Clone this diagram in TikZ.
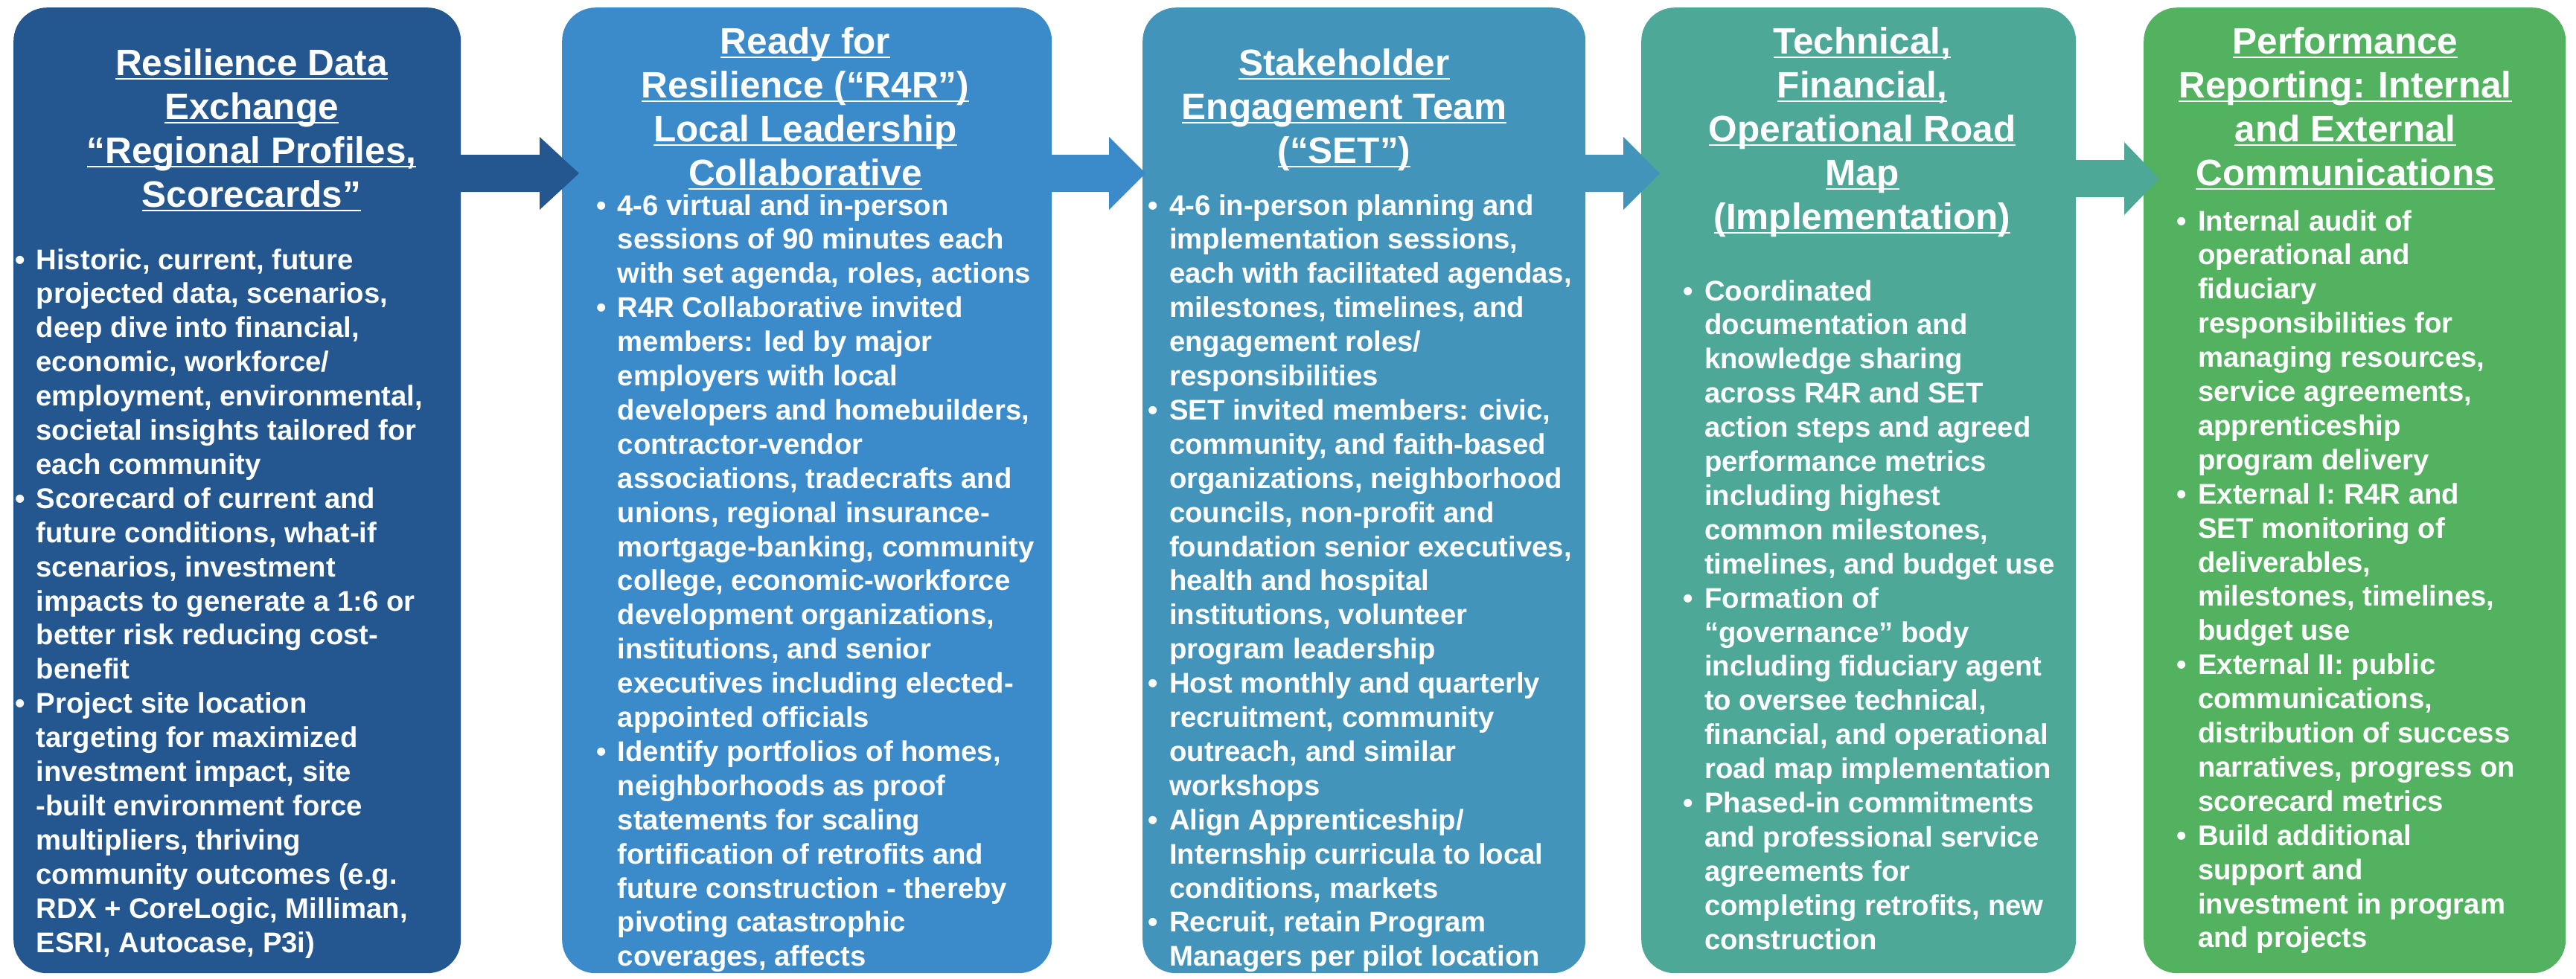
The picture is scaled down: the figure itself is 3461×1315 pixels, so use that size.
\documentclass[tikz,border=0pt]{standalone}
\usepackage{fontspec}
\setmainfont{Liberation Sans}
\usetikzlibrary{calc}

% panel colours, left to right
\definecolor{rdxblue}{HTML}{245790}
\definecolor{rfrblue}{HTML}{3B8AC9}
\definecolor{setblue}{HTML}{4294BB}
\definecolor{mapteal}{HTML}{4DA898}
\definecolor{repgreen}{HTML}{53B260}

\newcommand\hdfont{\fontsize{49.5pt}{59pt}\selectfont\bfseries}
\newcommand\bdfont{\fontsize{38.3pt}{45.9pt}\selectfont\bfseries}
\newcommand\bl{\llap{•\hspace{15pt}}}
% underlined heading line: a rule the width of the text, just below the baseline
\newcommand\ulin[1]{\setbox0\hbox{#1}\rlap{\rule[-5.7pt]{\wd0}{2.2pt}}\box0}

% block arrow from the right edge of one panel into the next one
% #1 colour, #2 source panel, #3 target panel, #4 centre line,
% #5 head base offset, #6 tip offset (both from the target's west edge)
\newcommand\flowarrow[6]{%
  \fill[#1] ($(#2.east |- #4)+(-3,-25)$) -- ($(#3.west |- #4)+(#5,-25)$)
    -- ($(#3.west |- #4)+(#5,-49)$) -- ($(#3.west |- #4)+(#6,0)$)
    -- ($(#3.west |- #4)+(#5,49)$) -- ($(#3.west |- #4)+(#5,25)$)
    -- ($(#2.east |- #4)+(-3,25)$) -- cycle;}

\tikzset{
  panel/.style={rectangle, rounded corners=45pt, inner sep=0pt, draw=none,
    anchor=north west, minimum height=1298pt},
  heading/.style={anchor=base, inner sep=0pt, text=white, font=\hdfont},
  body/.style={anchor=base west, inner sep=0pt, text=white, font=\bdfont},
}

\begin{document}
\begin{tikzpicture}[x=1pt, y=-1pt]
\useasboundingbox (0,0) rectangle (3461,1315);
\fill[white] (0,0) rectangle (3461,1315);

% panels
\node[panel, fill=rdxblue,  minimum width=601pt] (p1) at (18,10) {};
\node[panel, fill=rfrblue,  minimum width=658pt] (p2) at (755,10) {};
\node[panel, fill=setblue,  minimum width=595pt] (p3) at (1535,10) {};
\node[panel, fill=mapteal,  minimum width=584pt] (p4) at (2205,10) {};
\node[panel, fill=repgreen, minimum width=567pt] (p5) at (2880,10) {};

% arrows between panels
\coordinate (lineA) at (0,233);
\coordinate (lineB) at (0,240);
\flowarrow{rdxblue}{p1}{p2}{lineA}{-30}{23}
\flowarrow{rfrblue}{p2}{p3}{lineA}{-45}{4}
\flowarrow{setblue}{p3}{p4}{lineA}{-24}{25}
\flowarrow{mapteal}{p4}{p5}{lineB}{-26}{21}

% panel 1
\node[heading] (h1) at (338,101) {\begin{tabular}[t]{@{}c@{}}
\ulin{Resilience Data}\\
\ulin{Exchange}\\
\ulin{“Regional Profiles,}\\
\ulin{Scorecards”}
\end{tabular}};
\node[body] (t1) at (48.5,362) {\begin{tabular}[t]{@{}l@{}}
\bl Historic, current, future\\
projected data, scenarios,\\
deep dive into financial,\\
economic, workforce/\\
employment, environmental,\\
societal insights tailored for\\
each community\\
\bl Scorecard of current and\\
future conditions, what-if\\
scenarios, investment\\
impacts to generate a 1:6 or\\
better risk reducing cost-\\
benefit\\
\bl Project site location\\
targeting for maximized\\
investment impact, site\\
-built environment force\\
multipliers, thriving\\
community outcomes (e.g.\\
RDX + CoreLogic, Milliman,\\
ESRI, Autocase, P3i)
\end{tabular}};

% panel 2
\node[heading] (h2) at (1082,72) {\begin{tabular}[t]{@{}c@{}}
\ulin{Ready for}\\
\ulin{Resilience (“R4R”)}\\
\ulin{Local Leadership}\\
\ulin{Collaborative}
\end{tabular}};
\node[body] (t2) at (829.5,289) {\begin{tabular}[t]{@{}l@{}}
\bl 4-6 virtual and in-person\\
sessions of 90 minutes each\\
with set agenda, roles, actions\\
\bl R4R Collaborative invited\\
members: led by major\\
employers with local\\
developers and homebuilders,\\
contractor-vendor\\
associations, tradecrafts and\\
unions, regional insurance-\\
mortgage-banking, community\\
college, economic-workforce\\
development organizations,\\
institutions, and senior\\
executives including elected-\\
appointed officials\\
\bl Identify portfolios of homes,\\
neighborhoods as proof\\
statements for scaling\\
fortification of retrofits and\\
future construction - thereby\\
pivoting catastrophic\\
coverages, affects
\end{tabular}};

% panel 3
\node[heading] (h3) at (1806,101) {\begin{tabular}[t]{@{}c@{}}
\ulin{Stakeholder}\\
\ulin{Engagement Team}\\
\ulin{(“SET”)}
\end{tabular}};
\node[body] (t3) at (1571,289) {\begin{tabular}[t]{@{}l@{}}
\bl 4-6 in-person planning and\\
implementation sessions,\\
each with facilitated agendas,\\
milestones, timelines, and\\
engagement roles/\\
responsibilities\\
\bl SET invited members: civic,\\
community, and faith-based\\
organizations, neighborhood\\
councils, non-profit and\\
foundation senior executives,\\
health and hospital\\
institutions, volunteer\\
program leadership\\
\bl Host monthly and quarterly\\
recruitment, community\\
outreach, and similar\\
workshops\\
\bl Align Apprenticeship/\\
Internship curricula to local\\
conditions, markets\\
\bl Recruit, retain Program\\
Managers per pilot location
\end{tabular}};

% panel 4
\node[heading] (h4) at (2502,72) {\begin{tabular}[t]{@{}c@{}}
\ulin{Technical,}\\
\ulin{Financial,}\\
\ulin{Operational Road}\\
\ulin{Map}\\
\ulin{(Implementation)}
\end{tabular}};
\node[body] (t4) at (2290,404) {\begin{tabular}[t]{@{}l@{}}
\bl Coordinated\\
documentation and\\
knowledge sharing\\
across R4R and SET\\
action steps and agreed\\
performance metrics\\
including highest\\
common milestones,\\
timelines, and budget use\\
\bl Formation of\\
“governance” body\\
including fiduciary agent\\
to oversee technical,\\
financial, and operational\\
road map implementation\\
\bl Phased-in commitments\\
and professional service\\
agreements for\\
completing retrofits, new\\
construction
\end{tabular}};

% panel 5
\node[heading] (h5) at (3151,72) {\begin{tabular}[t]{@{}c@{}}
\ulin{Performance}\\
\ulin{Reporting: Internal}\\
\ulin{and External}\\
\ulin{Communications}
\end{tabular}};
\node[body] (t5) at (2953,310) {\begin{tabular}[t]{@{}l@{}}
\bl Internal audit of\\
operational and\\
fiduciary\\
responsibilities for\\
managing resources,\\
service agreements,\\
apprenticeship\\
program delivery\\
\bl External I: R4R and\\
SET monitoring of\\
deliverables,\\
milestones, timelines,\\
budget use\\
\bl External II: public\\
communications,\\
distribution of success\\
narratives, progress on\\
scorecard metrics\\
\bl Build additional\\
support and\\
investment in program\\
and projects
\end{tabular}};
\end{tikzpicture}
\end{document}
